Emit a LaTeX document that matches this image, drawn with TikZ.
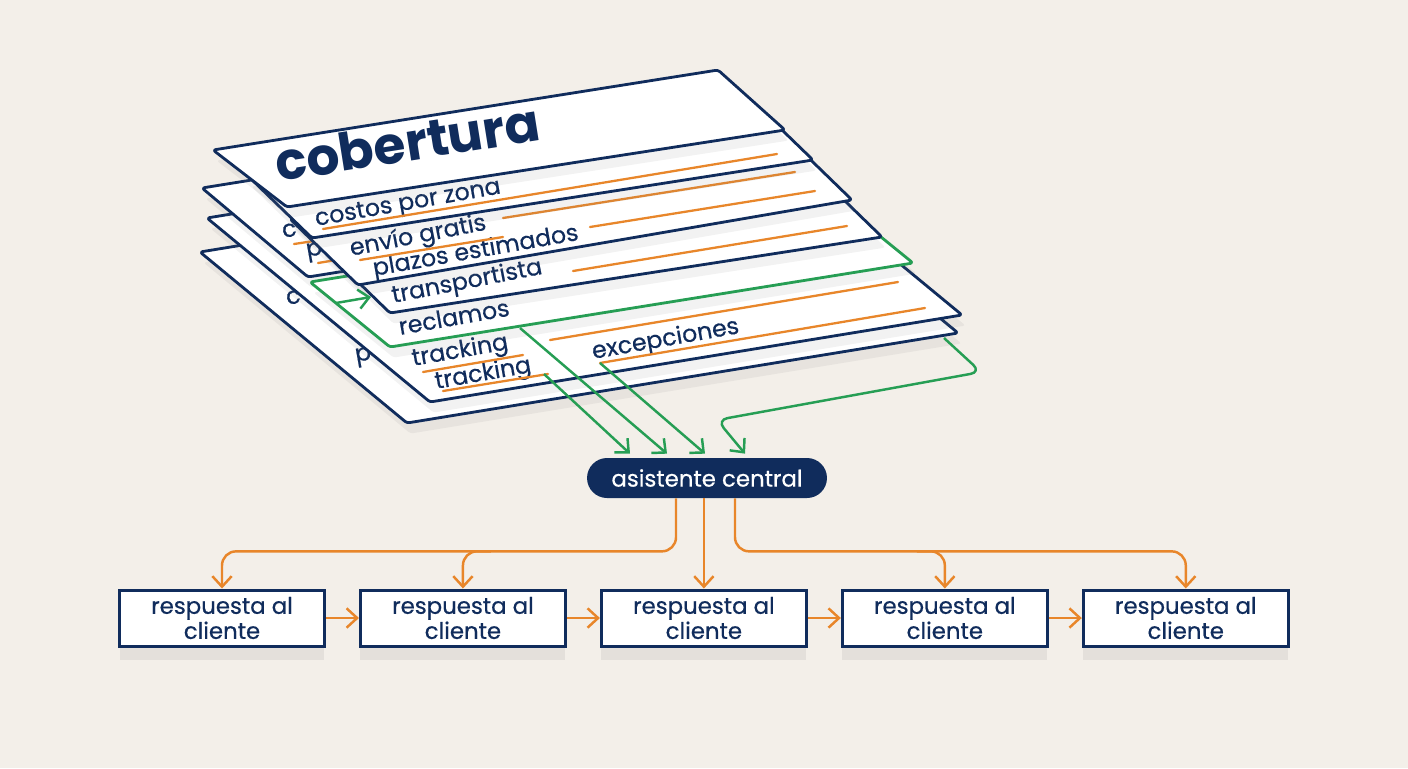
\documentclass[tikz,border=0pt]{standalone}
\usepackage{fontspec}
\setmainfont{Poppins}
\newfontfamily\medfont{Poppins}[FakeBold=0.5]
\usetikzlibrary{arrows.meta, positioning, calc, shadows}

\definecolor{navyc}{RGB}{16,44,92}
\definecolor{orangec}{RGB}{232,134,42}
\definecolor{greenc}{RGB}{38,158,84}
\definecolor{bgc}{RGB}{243,239,233}

\begin{document}
\begin{tikzpicture}[x=0.02cm, y=-0.02cm,
    card/.style={fill=white, draw=navyc, line width=1.6pt, line join=round, rounded corners=1.5pt,
        drop shadow={shadow xshift=2pt, shadow yshift=-6pt, opacity=0.10}},
    gcard/.style={card, draw=greenc},
    ctext/.style={text=navyc, font=\medfont\fontsize{13.5}{13.5}\selectfont, rotate=10, anchor=base west, inner sep=0pt},
    uline/.style={orangec, line width=1.3pt, line cap=round},
    garrow/.style={greenc, line width=1.4pt, -{Straight Barb[length=6pt,width=11pt]}, rounded corners=6pt},
    oarrow/.style={orangec, line width=1.4pt, -{Straight Barb[length=6pt,width=11pt]}, rounded corners=8pt},
    resp/.style={draw=navyc, fill=white, line width=1.7pt, minimum width=4.1cm, minimum height=1.12cm,
        align=center, text=navyc, font=\medfont\fontsize{13}{12}\selectfont, inner sep=2pt,
        drop shadow={shadow xshift=0pt, shadow yshift=-8pt, opacity=0.13}},
    pill/.style={fill=navyc, text=white, rounded corners=0.4cm, minimum width=4.8cm, minimum height=0.8cm,
        font=\medfont\fontsize{13}{13}\selectfont, inner sep=2pt}
]
    % fondo
    \useasboundingbox (0,0) rectangle (1408,768);
    \fill[bgc] (0,0) rectangle (1408,768);

    % tarjetas del fondo
    \draw[card] (200,252) -- (751,162) -- (958,333) -- (407,423) -- cycle;
    \node[ctext] (t7a) at (287,305) {c};
    \node[ctext] (t7b) at (356,362) {p};

    \draw[card] (207,218) -- (739,131) -- (962,315) -- (430,402) -- cycle;
    \node[ctext] (t6a) at (413,366) {tracking};
    \node[ctext] (t6b) at (436,389) {tracking};
    \node[ctext] (t6c) at (593,359) {excepciones};
    \draw[uline] (423,372) -- (523,355);
    \draw[uline] (443,391) -- (548,374);
    \draw[uline] (550,340) -- (898,282);
    \draw[uline] (600,363) -- (925,308);

    \draw[card] (202,188) -- (724,104) -- (830,193) -- (308,277) -- cycle;
    \node[ctext] (tba) at (283,238) {c};
    \node[ctext] (tbb) at (307,257) {p};
    \draw[uline] (294,244) -- (314,241);
    \draw[uline] (318,263) -- (336,260);

    % tarjeta verde
    \draw[gcard] (310,282) -- (833,198) -- (913,263) -- (390,347) -- cycle;
    \node[ctext] (t5) at (400,335) {reclamos};

    % tarjetas delanteras
    \draw[card] (320,245) -- (812,169) -- (882,237) -- (390,313) -- cycle;
    \node[ctext, rotate=1] (t4) at (393,303) {transportista};
    \draw[uline] (573,271) -- (847,226);

    \draw[card] (290,219) -- (784,134) -- (852,200) -- (358,285) -- cycle;
    \node[ctext, rotate=1] (t3a) at (351,256) {envío gratis};
    \node[ctext] (t3b) at (374,276) {plazos estimados};
    \draw[uline] (360,260) -- (503,237);
    \draw[uline] (503,218) -- (795,172);
    \draw[uline] (590,227) -- (815,191);

    \draw[card] (248,176) -- (749,98) -- (813,160) -- (312,238) -- cycle;
    \node[ctext] (t2) at (316,226) {costos por zona};
    \draw[uline] (323,229) -- (777,154);

    \draw[card] (213,150) -- (718,70) -- (785,130) -- (287,207) -- cycle;
    \node[ctext, rotate=-1, font=\fontsize{29.5}{29.5}\selectfont\bfseries] (t1) at (278,182) {cobertura};

    % asistente y respuestas
    \node[pill] (ac) at (707,478) {asistente central};
    \node[resp] (r1) at (222,618) {respuesta al\\cliente};
    \node[resp, right=0.66cm of r1] (r2) {respuesta al\\cliente};
    \node[resp, right=0.66cm of r2] (r3) {respuesta al\\cliente};
    \node[resp, right=0.66cm of r3] (r4) {respuesta al\\cliente};
    \node[resp, right=0.66cm of r4] (r5) {respuesta al\\cliente};

    % flechas verdes hacia el asistente
    \coordinate (gA) at (544,374);
    \coordinate (gB) at (520,328);
    \coordinate (gC) at (600,363);
    \coordinate (gD) at (944,338);
    \coordinate (gE) at (336,303);
    \coordinate (gF) at (371,297);
    \draw[garrow] (gE) -- (gF);
    \draw[garrow] (gA) -- ($(ac.north)+(-77,-4)$);
    \draw[garrow] (gB) -- ($(ac.north)+(-40,-4)$);
    \draw[garrow] (gC) -- ($(ac.north)+(-2,-4)$);
    \draw[garrow] (gD) -- (981,372) -- (717,420) -- ($(ac.north)+(38,-4)$);

    % flechas naranjas hacia las respuestas
    \coordinate (hl) at ($(ac.south)+(0,53)$);
    \draw[oarrow] ($(ac.south)+(-31,0)$) |- (hl -| r2.north) -| (r1.north);
    \draw[oarrow] ($(hl -| r2.north)+(28,0)$) -| (r2.north);
    \draw[oarrow] (ac.south -| r3.north) -- (r3.north);
    \draw[oarrow] ($(ac.south)+(28,0)$) |- (hl -| r4.north) -| (r5.north);
    \draw[oarrow] ($(hl -| r4.north)+(-28,0)$) -| (r4.north);
    \foreach \a/\b in {r1/r2, r2/r3, r3/r4, r4/r5}
        \draw[oarrow] (\a.east) -- (\b.west);
\end{tikzpicture}
\end{document}
